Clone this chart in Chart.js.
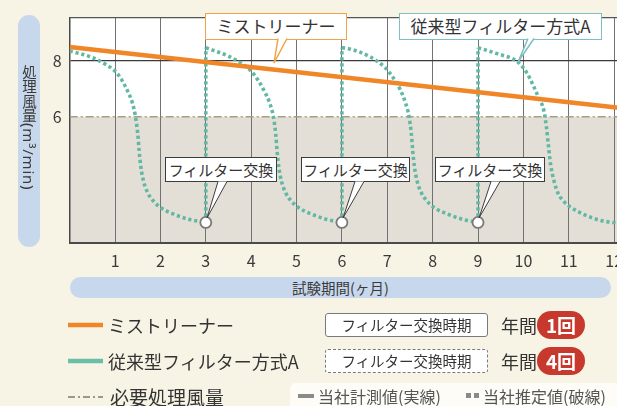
<!DOCTYPE html>
<html lang="ja">
<head>
<meta charset="utf-8">
<script src="https://cdn.jsdelivr.net/npm/chart.js@4.4.1/dist/chart.umd.min.js"></script>
<style>
  html, body { margin: 0; padding: 0; }
  body {
    width: 617px; height: 406px; overflow: hidden; position: relative;
    background: #f7f3e5; color: #333;
    font-family: "Noto Sans CJK JP", "Noto Sans", sans-serif;
  }
  .abs { position: absolute; }
  #plotBg { background: #fff; }
  #chartBox { left: 0; top: 0; width: 660px; height: 275px; }
  .pill { background: #c7d8ec; border-radius: 11px; }
  #yTitle { left: 18px; top: 15px; width: 22px; height: 232px; }
  #yTitle span {
    position: absolute; left: 3px; top: 50px;
    writing-mode: vertical-rl; font-size: 14.5px; color: #3a3a3a; line-height: 16px; white-space: nowrap;
  }
  #yTitle b { font-weight: normal; font-family: "Noto Sans", sans-serif; letter-spacing: 0.8px; font-size: 15px; }
  #xTitle {
    left: 70px; top: 277px; width: 541px; height: 21px;
    font-size: 14.5px; line-height: 21px; text-align: center; color: #3a3a3a;
  }
  .callout {
    box-sizing: border-box; background: #fff; text-align: center; white-space: nowrap;
  }
  .c-big { top: 13px; height: 27px; font-size: 17px; line-height: 24px; }
  .c-ex { top: 157px; height: 25px; font-size: 15px; line-height: 23px; border: 1px solid #3c3c3c; }
  .lg-text { font-size: 18px; line-height: 24px; white-space: nowrap; color: #333; }
  .lg-box {
    box-sizing: border-box; left: 325px; width: 163px; height: 24px; background: #fff;
    border-radius: 3px; font-size: 14.5px; line-height: 22px; text-align: center; color: #333;
  }
  .badge {
    left: 537px; width: 48px; height: 28px; border-radius: 14px; background: #c7382d;
    color: #fff; font-weight: bold; font-size: 19px; line-height: 28px; text-align: center;
  }
  #note { left: 290px; top: 383px; width: 340px; height: 30px; background: #fdfcf7; border-radius: 6px; }
  .note-t { top: 385px; font-size: 16px; line-height: 22px; color: #555; white-space: nowrap; }
  .note-i { background: #8a8a8a; }
</style>
</head>
<body>
<div id="plotBg" class="abs"></div>
<div id="chartBox" class="abs"><canvas id="chart"></canvas></div>

<div id="yTitle" class="abs pill"><span>処理風量<b>(m³/min)</b></span></div>
<div id="xTitle" class="abs pill">試験期間(ヶ月)</div>

<div class="abs callout c-big" style="left:205px;width:142px;border:1.5px solid #f0a347;">ミストリーナー</div>
<div class="abs callout c-big" style="left:399px;width:203px;border:1.5px solid #7fbfc4;">従来型フィルター方式A</div>
<div class="abs callout c-ex" style="left:165px;width:112px;">フィルター交換</div>
<div class="abs callout c-ex" style="left:301px;width:109px;">フィルター交換</div>
<div class="abs callout c-ex" style="left:435px;width:110px;">フィルター交換</div>

<svg class="abs" style="left:0;top:0;" width="617" height="406">
  <polyline points="278,38.5 274,63 287,38.5" fill="#fff" stroke="#f0a347" stroke-width="1.5"/>
  <polyline points="528,38.5 518,62 534,38.5" fill="#fff" stroke="#7fbfc4" stroke-width="1.5"/>
  <polyline points="218,181.5 207,218 227,181.5" fill="#fff" stroke="#3c3c3c" stroke-width="1"/>
  <polyline points="355,181.5 343,218 364,181.5" fill="#fff" stroke="#3c3c3c" stroke-width="1"/>
  <polyline points="491,181.5 479,218 500,181.5" fill="#fff" stroke="#3c3c3c" stroke-width="1"/>
  <line x1="68" y1="325" x2="103" y2="325" stroke="#f08627" stroke-width="4.5"/>
  <line x1="68" y1="361" x2="103" y2="361" stroke="#6cbfa7" stroke-width="4.5"/>
  <line x1="68" y1="397" x2="103" y2="397" stroke="#9b978a" stroke-width="2" stroke-dasharray="7 3 2 3"/>
</svg>

<div class="abs lg-text" style="left:108px;top:313px;">ミストリーナー</div>
<div class="abs lg-text" style="left:108px;top:349px;">従来型フィルター方式A</div>
<div class="abs lg-text" style="left:110px;top:385px;font-size:19px;">必要処理風量</div>

<div class="abs lg-box" style="top:313px;border:1px solid #7a7a7a;">フィルター交換時期</div>
<div class="abs lg-box" style="top:349px;border:1px dashed #7a7a7a;">フィルター交換時期</div>
<div class="abs lg-text" style="left:501px;top:313px;">年間</div>
<div class="abs lg-text" style="left:501px;top:349px;">年間</div>
<div class="abs badge" style="top:311px;">1回</div>
<div class="abs badge" style="top:347px;">4回</div>

<div id="note" class="abs"></div>
<div class="abs note-i" style="left:298px;top:394px;width:16px;height:4px;"></div>
<div class="abs note-t" style="left:318px;">当社計測値(実線)</div>
<div class="abs note-i" style="left:466px;top:393px;width:5px;height:5px;"></div>
<div class="abs note-i" style="left:474px;top:393px;width:5px;height:5px;"></div>
<div class="abs note-t" style="left:483px;">当社推定値(破線)</div>

<script>
// axis ticks
const MONTH_TICKS = [1, 2, 3, 4, 5, 6, 7, 8, 9, 10, 11, 12];
const FLOW_TICKS = [6, 8];
const X_MIN = 0, X_MAX = 12.85;   // axis runs past the cropped right edge
const Y_MIN = 1.53, Y_MAX = 9.52;

// ミストリーナー (straight decline)
const MIST_X = [0, 12.1];
const MIST_Y = [8.48, 6.32];

// 従来型フィルター方式A, one curve per filter period
const FILT1_X = [0, 0.5, 0.8, 1.0, 1.15, 1.28, 1.38, 1.45, 1.5, 1.53, 1.57, 1.63, 1.72, 1.85, 2.0, 2.28, 2.65, 3.0];
const FILT1_Y = [8.34, 8.1, 7.85, 7.62, 7.3, 6.9, 6.5, 6.0, 5.4, 4.8, 4.2, 3.7, 3.3, 3.0, 2.78, 2.55, 2.35, 2.25];
const FILT2_X = [3.0, 3.5, 3.8, 4.0, 4.17, 4.3, 4.41, 4.49, 4.54, 4.57, 4.61, 4.67, 4.76, 4.89, 5.04, 5.32, 5.68, 6.0];
const FILT2_Y = [8.45, 8.15, 7.88, 7.62, 7.25, 6.88, 6.48, 6.0, 5.4, 4.8, 4.2, 3.7, 3.3, 3.0, 2.78, 2.55, 2.35, 2.25];
const FILT3_X = [6.0, 6.12, 6.63, 6.96, 7.12, 7.28, 7.4, 7.48, 7.53, 7.56, 7.6, 7.66, 7.75, 7.88, 8.03, 8.32, 8.68, 9.0];
const FILT3_Y = [8.45, 8.43, 8.12, 7.73, 7.41, 6.98, 6.5, 6.0, 5.4, 4.8, 4.2, 3.7, 3.3, 3.0, 2.78, 2.55, 2.35, 2.25];
const FILT4_X = [9.0, 9.4, 9.88, 10.08, 10.22, 10.35, 10.45, 10.51, 10.55, 10.6, 10.67, 10.76, 10.9, 11.05, 11.35, 11.7, 12.1];
const FILT4_Y = [8.45, 8.25, 7.94, 7.55, 7.1, 6.62, 6.23, 5.6, 5.0, 4.3, 3.75, 3.3, 2.98, 2.78, 2.52, 2.32, 2.22];

// filter exchange: drop back up at these months
const EXCHANGE_MONTHS = [3, 6, 9];
const EXCHANGE_LOW = [2.25, 2.25, 2.25];
const EXCHANGE_HIGH = [8.45, 8.45, 8.45];

// 必要処理風量
const REQUIRED_X = [0, 12.1];
const REQUIRED_Y = [6, 6];

const ORANGE = "#f08627";
const TEAL = "#62b8a3";

function pts(xs, ys) {
  return xs.map(function (x, i) { return { x: x, y: ys[i] }; });
}

function filterCurve(xs, ys) {
  return {
    data: pts(xs, ys),
    borderColor: TEAL,
    borderWidth: 3.6,
    borderDash: [3.2, 2.8],
    borderCapStyle: "butt",
    cubicInterpolationMode: "monotone",
    pointRadius: 0,
    fill: false,
  };
}

const datasets = [];
datasets.push({
  data: pts(EXCHANGE_MONTHS, EXCHANGE_LOW),
  showLine: false,
  pointRadius: 5.5,
  pointBackgroundColor: "#fff",
  pointBorderColor: "#7a7a7a",
  pointBorderWidth: 1.8,
});
datasets.push({
  data: pts(MIST_X, MIST_Y),
  borderColor: ORANGE,
  borderWidth: 4.5,
  pointRadius: 0,
  fill: false,
});
datasets.push(filterCurve(FILT1_X, FILT1_Y));
datasets.push(filterCurve(FILT2_X, FILT2_Y));
datasets.push(filterCurve(FILT3_X, FILT3_Y));
datasets.push(filterCurve(FILT4_X, FILT4_Y));
EXCHANGE_MONTHS.forEach(function (m, i) {
  const d = filterCurve([m, m], [EXCHANGE_LOW[i], EXCHANGE_HIGH[i]]);
  d.cubicInterpolationMode = "default";
  datasets.push(d);
});
datasets.push({
  data: pts(REQUIRED_X, REQUIRED_Y),
  borderColor: "#a59f86",
  borderWidth: 1.6,
  borderDash: [8, 3, 2, 3],
  pointRadius: 0,
  fill: "start",
  backgroundColor: "#e4dfd6",
});

const frame = {
  id: "frame",
  afterDraw: function (chart) {
    const a = chart.chartArea, ctx = chart.ctx;
    ctx.save();
    ctx.strokeStyle = "#555";
    ctx.lineWidth = 1.3;
    ctx.beginPath();
    ctx.moveTo(a.left, a.top);
    ctx.lineTo(a.right, a.top);
    ctx.stroke();
    ctx.restore();
  },
};

const tickFont = { family: "'Noto Sans CJK JP', 'Noto Sans', sans-serif", size: 16 };

const chart = new Chart(document.getElementById("chart"), {
  type: "line",
  data: { datasets: datasets },
  options: {
    responsive: true,
    maintainAspectRatio: false,
    animation: false,
    layout: { padding: { top: 17.3, left: 0, right: 0, bottom: 0 } },
    plugins: {
      legend: { display: false },
      tooltip: { enabled: false },
      filler: { drawTime: "beforeDraw" },
    },
    scales: {
      x: {
        type: "linear",
        min: X_MIN,
        max: X_MAX,
        afterBuildTicks: function (s) { s.ticks = MONTH_TICKS.map(function (v) { return { value: v }; }); },
        afterFit: function (s) { s.height = 32.3; },
        ticks: { padding: 9, color: "#3a3a3a", font: tickFont, maxRotation: 0, autoSkip: false },
        grid: { color: "#727272", lineWidth: 1, drawTicks: false },
        border: { display: true, color: "#4a4a4a", width: 2 },
      },
      y: {
        type: "linear",
        min: Y_MIN,
        max: Y_MAX,
        afterBuildTicks: function (s) { s.ticks = FLOW_TICKS.map(function (v) { return { value: v }; }); },
        afterFit: function (s) { s.width = 69.7; },
        ticks: { padding: 8, color: "#3a3a3a", font: tickFont },
        grid: {
          drawTicks: false,
          lineWidth: 1.2,
          color: function (c) { return c.tick && c.tick.value === 8 ? "#3a3a3a" : "rgba(0,0,0,0)"; },
        },
        border: { display: true, color: "#4a4a4a", width: 1.5 },
      },
    },
  },
  plugins: [frame],
});

// white plot background behind the transparent canvas
const a = chart.chartArea;
const bg = document.getElementById("plotBg");
bg.style.left = a.left + "px";
bg.style.top = a.top + "px";
bg.style.width = (a.right - a.left) + "px";
bg.style.height = (a.bottom - a.top) + "px";
</script>
</body>
</html>
